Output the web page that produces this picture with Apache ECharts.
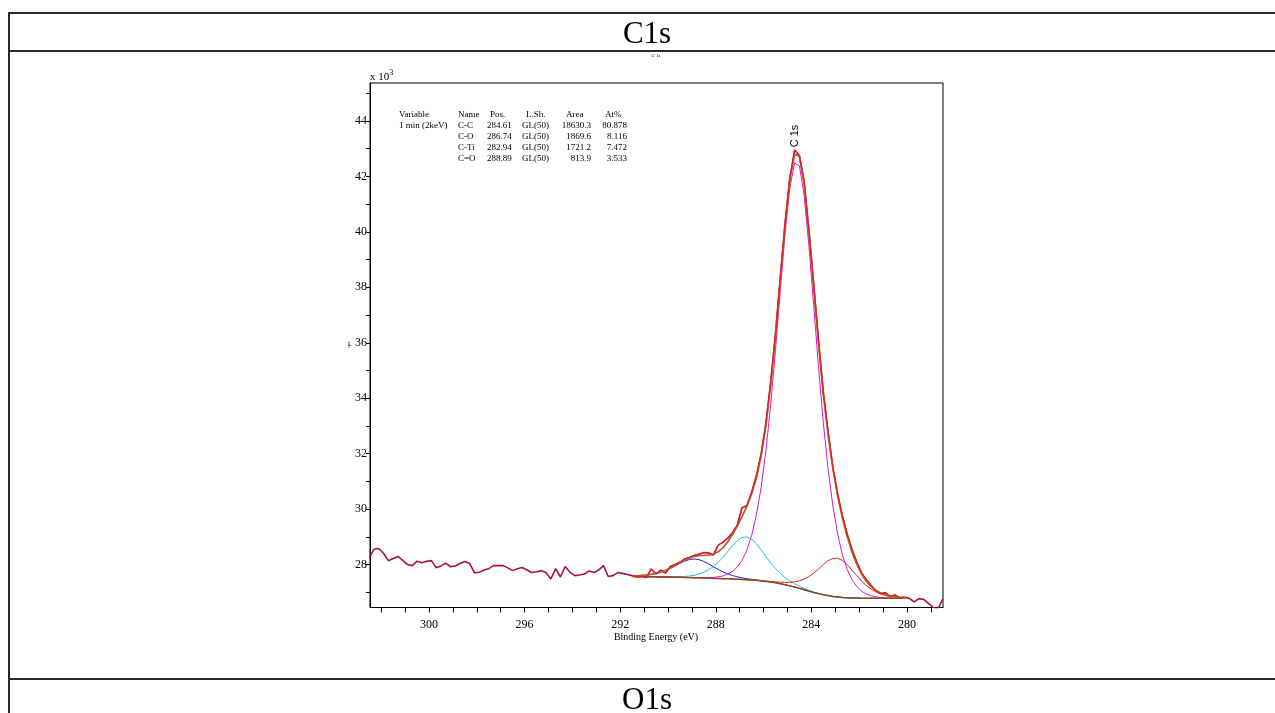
<!DOCTYPE html>
<html>
<head>
<meta charset="utf-8">
<script src="https://cdn.jsdelivr.net/npm/echarts@6/dist/echarts.min.js"></script>
<style>
html,body{margin:0;padding:0;background:#fff;}
#chart{width:1275px;height:713px;}
</style>
</head>
<body>
<div id="chart"></div>
<script>
// Binding energy grid (eV)
const energy = [
302.5,302.3,302.1,301.9,301.7,301.5,301.3,301.1,300.9,300.7,
300.5,300.3,300.1,299.9,299.7,299.5,299.3,299.1,298.9,298.7,
298.5,298.3,298.1,297.9,297.7,297.5,297.3,297.1,296.9,296.7,
296.5,296.3,296.1,295.9,295.7,295.5,295.3,295.1,294.9,294.7,
294.5,294.3,294.1,293.9,293.7,293.5,293.3,293.1,292.9,292.7,
292.5,292.3,292.1,291.9,291.7,
291.5,291.3,291.1,290.9,290.7,290.5,290.3,290.1,289.9,289.7,
289.5,289.3,289.1,288.9,288.7,288.5,288.3,288.1,287.9,287.7,
287.5,287.3,287.1,286.9,286.7,286.5,286.3,286.1,285.9,285.7,
285.5,285.3,285.1,284.9,284.7,284.5,284.3,284.1,283.9,283.7,
283.5,283.3,283.1,282.9,282.7,282.5,282.3,282.1,281.9,281.7,
281.5,281.3,281.1,280.9,280.7,280.5,280.3,280.1,
279.9,279.7,279.5,279.3,279.1,278.9,278.7,278.5
];
// measured counts (x10^3 CPS)
const counts = [
28.25,28.55,28.58,28.40,28.14,28.22,28.29,28.15,28.00,27.96,
28.12,28.06,28.12,28.14,27.88,27.95,28.05,27.92,27.95,28.04,
28.11,28.04,27.70,27.72,27.80,27.85,27.96,27.96,27.96,27.88,
27.78,27.85,27.89,27.80,27.71,27.74,27.78,27.70,27.48,27.85,
27.55,27.93,27.72,27.60,27.62,27.66,27.77,27.71,27.80,27.96,
27.57,27.60,27.71,27.68,27.64,
27.60,27.55,27.57,27.53,27.84,27.66,27.80,27.69,27.93,28.00,
28.08,28.20,28.25,28.33,28.37,28.43,28.42,28.34,28.70,28.80,
28.95,29.15,29.42,30.05,30.12,30.60,31.20,32.00,33.10,34.60,
36.30,38.35,40.30,41.95,42.95,42.75,41.80,40.00,38.10,36.05,
34.20,32.80,31.50,30.55,29.75,29.10,28.55,28.10,27.70,27.45,
27.25,27.05,26.95,26.98,26.85,26.90,26.80,26.82,
26.78,26.65,26.77,26.74,26.60,26.45,26.40,26.75
];
// fit region: 291.5 -> 280.1 eV
const fitStart = 291.5, fitEnd = 280.1;
const background = [
27.57,27.57,27.57,27.56,27.56,27.56,27.55,27.55,27.55,27.54,
27.54,27.53,27.53,27.52,27.52,27.51,27.51,27.50,27.50,27.49,
27.49,27.48,27.47,27.46,27.45,27.44,27.43,27.41,27.39,27.37,
27.34,27.31,27.27,27.23,27.19,27.14,27.09,27.04,26.99,26.95,
26.91,26.88,26.85,26.83,26.81,26.80,26.79,26.79,26.78,26.78,
26.78,26.78,26.78,26.78,26.78,26.78,26.78,26.78
];
const compCO_dbl = [ // C=O
27.585,27.594,27.607,27.616,27.643,27.680,27.721,27.787,27.867,27.948,
28.044,28.123,28.183,28.200,28.178,28.110,28.023,27.918,27.825,27.734,
27.667,27.605,27.556,27.518,27.488,27.464,27.446,27.420,27.395,27.373,
27.342,27.31,27.27,27.23,27.19,27.14,27.09,27.04,26.99,26.95,
26.91,26.88,26.85,26.83,26.81,26.80,26.79,26.79,26.78,26.78,
26.78,26.78,26.78,26.78,26.78,26.78,26.78,26.78
];
const compCO = [ // C-O
27.570,27.570,27.570,27.560,27.561,27.562,27.553,27.555,27.558,27.554,
27.563,27.567,27.589,27.612,27.660,27.718,27.811,27.924,28.081,28.261,
28.475,28.682,28.862,28.977,28.998,28.917,28.752,28.526,28.287,28.061,
27.854,27.681,27.530,27.408,27.309,27.218,27.139,27.071,27.009,26.961,
26.916,26.884,26.852,26.83,26.81,26.80,26.79,26.79,26.78,26.78,
26.78,26.78,26.78,26.78,26.78,26.78,26.78,26.78
];
const compCTi = [ // C-Ti
27.57,27.57,27.57,27.56,27.56,27.56,27.55,27.55,27.55,27.54,
27.54,27.53,27.53,27.52,27.52,27.51,27.51,27.50,27.50,27.49,
27.490,27.481,27.471,27.461,27.451,27.442,27.434,27.417,27.402,27.391,
27.374,27.364,27.353,27.357,27.378,27.412,27.473,27.565,27.687,27.839,
27.996,28.137,28.220,28.228,28.144,27.994,27.798,27.600,27.405,27.245,
27.115,27.015,26.941,26.887,26.850,26.825,26.808,26.797
];
const compCC = [ // C-C
27.57,27.57,27.57,27.56,27.56,27.56,27.55,27.55,27.55,27.54,
27.540,27.531,27.531,27.522,27.525,27.519,27.528,27.532,27.556,27.587,
27.655,27.752,27.908,28.151,28.514,29.043,29.787,30.791,32.112,33.770,
35.723,37.857,39.922,41.584,42.485,42.383,41.303,39.493,37.318,35.124,
33.128,31.453,30.115,29.100,28.350,27.820,27.451,27.208,27.039,26.936,
26.872,26.833,26.810,26.797,26.789,26.785,26.782,26.781
];
const envelope = [
27.585,27.594,27.607,27.616,27.644,27.682,27.724,27.792,27.875,27.962,
28.067,28.161,28.243,28.294,28.323,28.327,28.342,28.374,28.462,28.602,
28.817,29.080,29.387,29.727,30.101,30.546,31.129,31.924,33.026,34.485,
36.273,38.282,40.265,41.889,42.792,42.733,41.735,40.049,38.034,36.024,
34.220,32.714,31.487,30.498,29.684,29.014,28.459,28.018,27.664,27.401,
27.207,27.068,26.971,26.904,26.859,26.830,26.810,26.798
];
// axis ticks / labels
const xLabels = [280,284,288,292,296,300];
const xTicks = [279,280,281,282,283,284,285,286,287,288,289,290,291,292,293,294,295,296,297,298,299,300,301,302];
const yLabels = [28,30,32,34,36,38,40,42,44];
const yTicks = [27,28,29,30,31,32,33,34,35,36,37,38,39,40,41,42,43,44,45];
// fit table
const tableHead = ['Name','Pos.','L.Sh.','Area','At%'];
const compNames = ['C-C','C-O','C-Ti','C=O'];
const compPos = ['284.61','286.74','282.94','288.89'];
const compShape = ['GL(50)','GL(50)','GL(50)','GL(50)'];
const compArea = ['18630.3','1869.6','1721.2','813.9'];
const compAt = ['80.878','8.116','7.472','3.533'];

const i0 = energy.indexOf(fitStart), i1 = energy.indexOf(fitEnd);
const fitE = energy.slice(i0, i1 + 1);
const pairs = (xs, ys) => xs.map((x, i) => [x, ys[i]]);

const SERIF = '"Liberation Serif","Times New Roman",serif';
const chart = echarts.init(document.getElementById('chart'), null, {renderer: 'canvas'});

function line(name, xs, ys, color, w, z) {
  return {name, type: 'line', data: pairs(xs, ys), showSymbol: false, symbol: 'none',
    lineStyle: {color, width: w}, itemStyle: {color}, z, silent: true, clip: true};
}

const graphic = [];
const frame = (x1, y1, x2, y2) => graphic.push({type: 'line', shape: {x1, y1, x2, y2},
  style: {stroke: '#2a2a2a', lineWidth: 2}, z: 100});
frame(9, 13, 1275, 13);
frame(9, 51, 1275, 51);
frame(9, 679, 1275, 679);
frame(9, 12, 9, 713);
const txt = (text, x, y, size, opts) => graphic.push(Object.assign({type: 'text', z: 100,
  style: Object.assign({text, x, y, font: size + 'px ' + SERIF, fill: '#000', align: 'left', verticalAlign: 'middle'}, opts || {})}));
txt('C1s', 647, 35, 31, {align: 'center'});
txt('O1s', 647, 701, 31, {align: 'center'});
txt('C 1s', 656, 56, 5, {align: 'center'});
txt('Binding Energy (eV)', 656, 637, 10, {align: 'center'});
graphic.push({type: 'text', z: 100, x: 349, y: 345, rotation: Math.PI / 2,
  style: {text: 'cps', x: 0, y: 0, font: '5px ' + SERIF, fill: '#000', align: 'center', verticalAlign: 'middle'}});
graphic.push({type: 'text', z: 100, x: 795, y: 136, rotation: Math.PI / 2,
  style: {text: 'C 1s', x: 0, y: 0, font: '11px "Liberation Sans",Arial,sans-serif', fill: '#000', align: 'center', verticalAlign: 'middle'}});
graphic.push({type: 'text', z: 100, style: {x: 370, y: 77, verticalAlign: 'middle',
  text: 'x 10{s|3}', font: '11px ' + SERIF, fill: '#000',
  rich: {s: {font: '8px ' + SERIF, verticalAlign: 'top', padding: [0, 0, 8, 0]}}}});
// table
const rowY = [114.5, 125.5, 136.7, 147.9, 159.1];
txt('Variable', 399, rowY[0], 9);
txt('1 min (2keV)', 399, rowY[1], 9);
const colX = [458, 487, 522, 591, 627];
const colAlign = ['left','left','left','right','right'];
tableHead.forEach((h, j) => {
  const x = j === 1 ? 490 : j === 2 ? 526 : j === 3 ? 566 : j === 4 ? 605 : 458;
  txt(h, x, rowY[0], 9);
});
compNames.forEach((n, i) => {
  const row = [n, compPos[i], compShape[i], compArea[i], compAt[i]];
  row.forEach((v, j) => txt(v, colX[j], rowY[i + 1], 9, {align: colAlign[j]}));
});

chart.setOption({
  animation: false,
  backgroundColor: '#fff',
  grid: {left: 370, top: 83, width: 573, height: 524.5, show: true, borderColor: '#000', borderWidth: 1, containLabel: false},
  xAxis: {
    type: 'value', min: 278.49, max: 302.47, inverse: true,
    axisLine: {show: true, onZero: false, lineStyle: {color: '#000', width: 1}},
    axisTick: {show: true, customValues: xTicks, length: 5, lineStyle: {color: '#000'}},
    axisLabel: {customValues: xLabels, color: '#000', fontFamily: SERIF, fontSize: 12, margin: 11},
    splitLine: {show: false}
  },
  yAxis: {
    type: 'value', min: 26.45, max: 45.37,
    axisLine: {show: true, onZero: false, lineStyle: {color: '#000', width: 1}},
    axisTick: {show: true, customValues: yTicks, length: 4, lineStyle: {color: '#000'}},
    axisLabel: {customValues: yLabels, color: '#000', fontFamily: SERIF, fontSize: 12, margin: 3, verticalAlign: 'middle', lineHeight: 12, padding: [0, 0, 6, 0]},
    splitLine: {show: false}
  },
  series: [
    line('data', energy, counts, '#a8123e', 1.6, 2),
    line('C=O', fitE, compCO_dbl, '#1f1fd0', 1, 3),
    line('C-O', fitE, compCO, '#22c4cc', 1, 3),
    line('C-Ti', fitE, compCTi, '#e5231f', 1, 3),
    line('C-C', fitE, compCC, '#d21ad6', 1, 3),
    line('background', fitE, background, '#8a4a22', 1.5, 4),
    line('envelope', fitE, envelope, '#b3622c', 1.8, 5),
    line('data-fit', fitE, counts.slice(i0, i1 + 1), '#ea1a1a', 1, 6)
  ],
  graphic
});
</script>
</body>
</html>
